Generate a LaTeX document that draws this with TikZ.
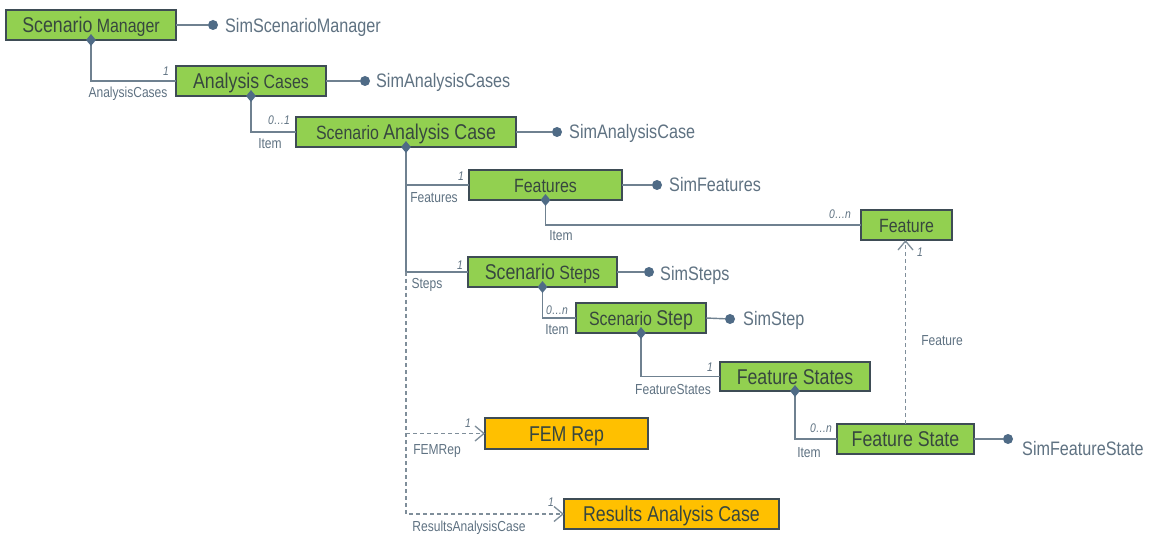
\documentclass[tikz,border=0pt]{standalone}
\usepackage{fontspec}
\setmainfont{Liberation Sans}[FakeStretch=0.83]
\usetikzlibrary{arrows.meta,shapes.geometric}
\definecolor{gfill}{HTML}{92D050}
\definecolor{ofill}{HTML}{FFC000}
\definecolor{bdr}{HTML}{3E4C55}
\definecolor{btxt}{HTML}{37473F}
\definecolor{ltxt}{HTML}{5F7282}
\definecolor{lnc}{HTML}{6F8190}
\definecolor{dlnc}{HTML}{7F8E9A}
\definecolor{dotc}{HTML}{4F6B86}
\newcommand{\txbig}[1]{{\fontsize{21.4}{24}\selectfont #1}}
\newcommand{\txsm}[1]{{\fontsize{19.2}{22}\selectfont #1}}
\tikzset{
  box/.style={draw=bdr, line width=2.5pt, text=btxt, inner sep=0pt, outer sep=0pt,
    text height=15pt, text depth=0pt, font=\fontsize{19.2}{22}\selectfont},
  gbox/.style={box, fill=gfill},
  obox/.style={box, fill=ofill},
  conn/.style={draw=lnc, line width=1.4pt},
  dconn/.style={draw=dlnc, line width=1.3pt, dash pattern=on 4pt off 3pt},
  arr/.style={-{Straight Barb[length=9pt,width=15pt,line width=1.3pt]}},
  dia/.style={diamond, fill=dotc, inner sep=0pt, minimum width=10pt, minimum height=12pt},
  dotn/.style={circle, fill=dotc, inner sep=0pt, minimum size=10pt},
  simlbl/.style={text=ltxt, font=\fontsize{19.5}{22}\selectfont, anchor=west, inner sep=0pt,
    text height=14pt, text depth=0pt},
  lbl/.style={text=ltxt, font=\fontsize{14.5}{16}\selectfont, inner sep=0pt,
    text height=10.4pt, text depth=0pt},
  mult/.style={text=ltxt, font=\fontsize{12.5}{14}\selectfont\itshape, inner sep=0pt,
    text height=9pt, text depth=0pt},
}
\begin{document}
\begin{tikzpicture}[x=1pt,y=-1pt]
\useasboundingbox[fill=white] (0,0) rectangle (1151,553);
% boxes
\node[gbox, minimum width=170, minimum height=30] (sm) at (91,25) {\txbig{Scenario}\txsm{ Manager}};
\node[gbox, minimum width=150, minimum height=30] (ac) at (251,81) {\txbig{Analysis}\txsm{ Cases}};
\node[gbox, minimum width=220, minimum height=30] (sac) at (406,132) {\txsm{Scenario }\txbig{Analysis Case}};
\node[gbox, minimum width=153, minimum height=30] (feats) at (545.5,185) {\txsm{Features}};
\node[gbox, minimum width=91, minimum height=30] (feat) at (906.5,225) {\txsm{Feature}};
\node[gbox, minimum width=149, minimum height=30] (ss) at (542.5,272) {\txbig{Scenario}\txsm{ Steps}};
\node[gbox, minimum width=130, minimum height=30] (sstep) at (641,318) {\txsm{Scenario }\txbig{Step}};
\node[gbox, minimum width=150, minimum height=29] (fsts) at (795,376.5) {\txbig{Feature States}};
\node[gbox, minimum width=137, minimum height=30] (fst) at (905.5,439) {\txbig{Feature State}};
\node[obox, minimum width=163, minimum height=31] (fem) at (566.5,433.5) {\txbig{FEM Rep}};
\node[obox, minimum width=215, minimum height=30] (res) at (671.5,514) {\txbig{Results Analysis Case}};

% composition connectors
\draw[conn] (sm.south) |- (ac.west);
\draw[conn] (ac.south) |- (sac.west);
\draw[conn] (sac.south) |- (feats.west);
\draw[conn] (sac.south) |- (ss.west);
\draw[conn] (feats.south) |- (feat.west);
\draw[conn] (ss.south) |- (sstep.west);
\draw[conn] (sstep.south) |- (fsts.west);
\draw[conn] (fsts.south) |- (fst.west);
% dashed references
\coordinate (trk) at (sac.south |- ss.west);
\draw[dconn] (trk) -- (sac.south |- fem.west);
\draw[dconn,arr] (sac.south |- fem.west) -- (fem.west);
\draw[dconn,arr] (trk) |- (res.west);
\draw[dconn,arr] (fst.north) -- (fst.north |- feat.south);

% diamonds
\foreach \b in {sm,ac,sac,feats,ss,sstep,fsts} \node[dia] at (\b.south) {};

% sim labels
\node[dotn] (smd) at (213,25) {};
\draw[conn] (sm.east) -- (smd);
\node[simlbl] (smt) at (225,26) {SimScenarioManager};
\node[dotn] (acd) at (365,81) {};
\draw[conn] (ac.east) -- (acd);
\node[simlbl] (act) at (376,81) {SimAnalysisCases};
\node[dotn] (sacd) at (557,132) {};
\draw[conn] (sac.east) -- (sacd);
\node[simlbl] (sact) at (569,132) {SimAnalysisCase};
\node[dotn] (featsd) at (657,185) {};
\draw[conn] (feats.east) -- (featsd);
\node[simlbl] (featst) at (669,185) {SimFeatures};
\node[dotn] (ssd) at (649,272) {};
\draw[conn] (ss.east) -- (ssd);
\node[simlbl] (sst) at (660,273) {SimSteps};
\node[dotn] (sstepd) at (730,319) {};
\draw[conn] (sstep.east) -- (sstepd);
\node[simlbl] (sstept) at (743,319) {SimStep};
\node[dotn] (fstd) at (1008,439) {};
\draw[conn] (fst.east) -- (fstd);
\node[simlbl] (fstt) at (1022,448) {SimFeatureState};

% role labels and multiplicities
\node[mult] (m1) at (166,71) {1};
\node[lbl] (l1) at (128,92) {AnalysisCases};
\node[mult] (m2) at (279,120) {0…1};
\node[lbl] (l2) at (270,143) {Item};
\node[mult] (m3) at (461,176) {1};
\node[lbl] (l3) at (434,197) {Features};
\node[lbl] (l4) at (561,235) {Item};
\node[mult] (m4) at (840,214) {0…n};
\node[mult] (m5) at (460,265) {1};
\node[lbl] (l5) at (427,283) {Steps};
\node[mult] (m6) at (557,310) {0…n};
\node[lbl] (l6) at (557,329) {Item};
\node[mult] (m7) at (710,367) {1};
\node[lbl] (l7) at (673,389) {FeatureStates};
\node[mult] (m8) at (821,428) {0…n};
\node[lbl] (l8) at (809,452) {Item};
\node[mult] (m9) at (920,252) {1};
\node[lbl] (l9) at (942,340) {Feature};
\node[mult] (m10) at (468,423) {1};
\node[lbl] (l10) at (437,449) {FEMRep};
\node[mult] (m11) at (551,502) {1};
\node[lbl] (l11) at (469,526) {ResultsAnalysisCase};
\end{tikzpicture}
\end{document}
